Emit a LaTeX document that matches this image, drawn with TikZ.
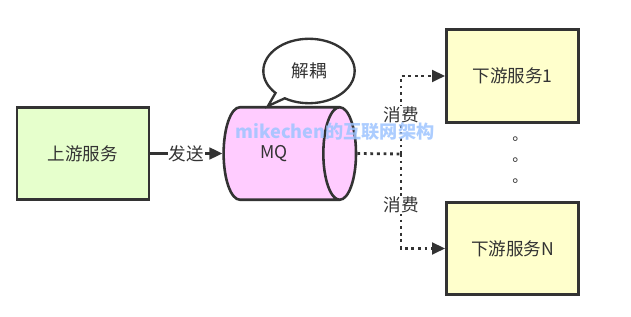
\documentclass[tikz,border=0pt]{standalone}
\usepackage{fontspec}
\setmainfont{Noto Sans CJK SC}
\usepackage{tikz}
\usetikzlibrary{arrows.meta,positioning,shapes.geometric,shapes.callouts}
\definecolor{mqline}{HTML}{333333}
\definecolor{mqtext}{HTML}{333333}
\definecolor{mqgreen}{HTML}{E6FFCC}
\definecolor{mqpink}{HTML}{FFCCFF}
\definecolor{mqyellow}{HTML}{FFFFCC}
\definecolor{mqmark}{HTML}{9EC4FF}
\tikzset{
  svc/.style={draw=mqline,line width=2.2pt,text=mqtext,minimum width=113pt,minimum height=79pt,font=\fontsize{15}{17}\selectfont},
  upsvc/.style={svc,fill=mqgreen},
  downsvc/.style={svc,fill=mqyellow},
  queue/.style={cylinder,draw=mqline,line width=2.2pt,fill=mqpink,text=mqtext,minimum height=113pt,minimum width=79pt,shape aspect=2.0,inner sep=0pt,font=\fontsize{15}{17}\selectfont},
  bubble/.style={ellipse callout,draw=mqline,line width=2pt,fill=white,text=mqtext,minimum width=78pt,minimum height=55pt,inner sep=0pt,font=\fontsize{15}{17}\selectfont},
  ar/.style={-{Triangle[length=11pt,width=10pt]},draw=mqline,line width=2.2pt},
  dotar/.style={ar,line width=2.4pt,dash pattern=on 2.4pt off 3.2pt},
  lbl/.style={fill=white,text=mqtext,inner sep=1pt,font=\fontsize{15}{17}\selectfont},
}

\begin{document}
\begin{tikzpicture}[x=0.03cm,y=-0.03cm]
  \useasboundingbox (0,0) rectangle (631,317);
  \node[upsvc] (up) at (83,153.5) {上游服务};
  \node[queue] (mq) at (281,153.5) {\hspace*{-12pt}MQ};
  \node[bubble,callout absolute pointer={(268,106)}] (decouple) at (309,71) {解耦};
  \node[downsvc] (d1) at (512.5,76) {下游服务1};
  \node[downsvc] (dN) at (512.5,248.5) {下游服务N};
  \node[text=mqtext,align=center,inner sep=0pt,font=\fontsize{13}{18}\selectfont] (more) at (520,160) {。\\。\\。};
  \coordinate (split) at (401,154);
  % send / consume
  \draw[ar] (up) -- node[lbl] {发送} (mq);
  \draw[dotar,-] (mq.east) -- (split);
  \draw[dotar] (split) |- node[lbl,pos=0.25] {消费} (d1.west);
  \draw[dotar] (split) |- node[lbl,pos=0.27] {消费} (dN.west);
  \node[text=mqmark,opacity=0.85,font=\bfseries\fontsize{15.5}{18}\selectfont] (mark) at (335,132) {mikechen的互联网架构};
\end{tikzpicture}
\end{document}
